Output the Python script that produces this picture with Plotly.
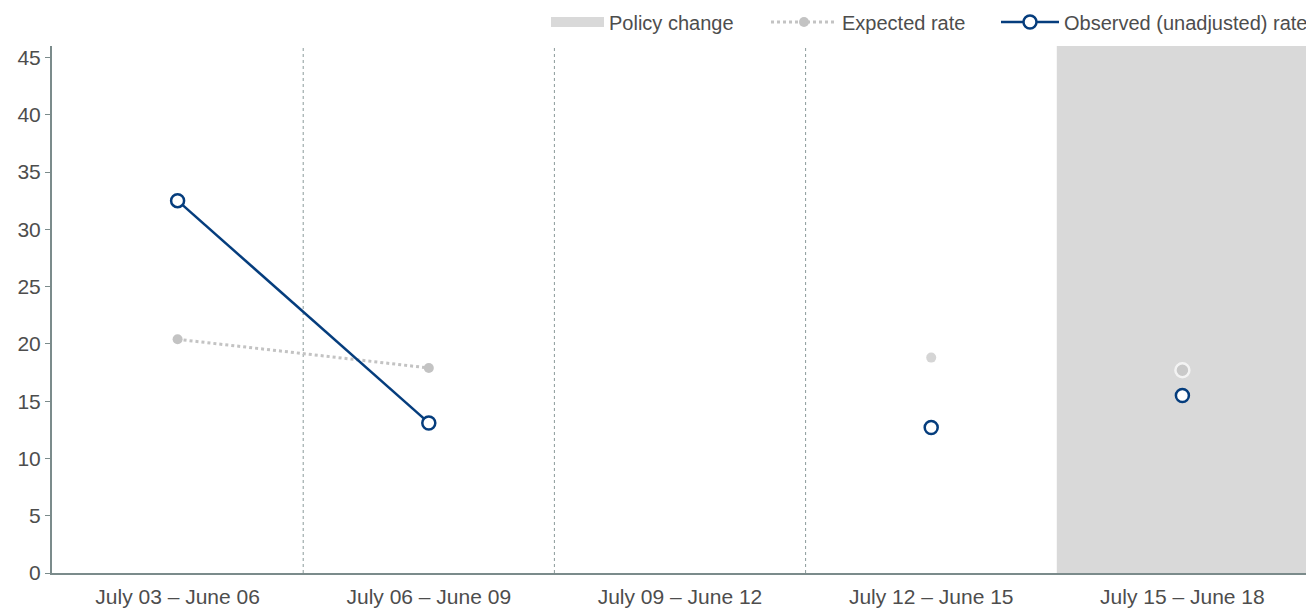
import plotly.graph_objects as go

categories = ["July 03 – June 06", "July 06 – June 09", "July 09 – June 12",
              "July 12 – June 15", "July 15 – June 18"]
observed = [32.5, 13.1, None, 12.7, 15.5]
expected = [20.4, 17.9, None, 18.8, 17.7]
policy_index = 4
y_ticks = [0, 5, 10, 15, 20, 25, 30, 35, 40, 45]

NAVY = "#053d7d"
GRAY = "#c3c3c3"
SHADE = "#d9d9d9"
AXIS = "#7b8b8b"
TEXT = "#4d4d4d"
FONT = "Liberation Sans, Arial, sans-serif"
FS = 21

xs = list(range(len(categories)))
fig = go.Figure()

# Policy change legend entry (shading itself is a shape below)
fig.add_trace(go.Scatter(
    x=[None], y=[None], mode="lines", name="Policy change",
    line=dict(color=SHADE, width=10), legend="legend", hoverinfo="skip"))

# Expected rate
fig.add_trace(go.Scatter(
    x=xs[:2], y=expected[:2], mode="lines+markers", name="Expected rate",
    line=dict(color=GRAY, width=3, dash="dot"),
    marker=dict(size=10, color=GRAY, line=dict(width=0)),
    legendgroup="exp", legend="legend2"))
exp_pts_x = [x for x, v in zip(xs[3:], expected[3:]) if v is not None]
exp_pts_y = [v for v in expected[3:] if v is not None]
fig.add_trace(go.Scatter(
    x=exp_pts_x, y=exp_pts_y, mode="markers", showlegend=False,
    marker=dict(size=[10 if x != policy_index else 14 for x in exp_pts_x], color=GRAY,
                line=dict(width=[0 if x != policy_index else 2.5 for x in exp_pts_x], color="white")),
    legendgroup="exp", legend="legend2"))

# Observed rate
fig.add_trace(go.Scatter(
    x=xs[:2], y=observed[:2], mode="lines+markers", name="Observed (unadjusted) rate",
    line=dict(color=NAVY, width=2.5),
    marker=dict(size=13, color="white", line=dict(width=2.5, color=NAVY)),
    legendgroup="obs", legend="legend3"))
obs_pts_x = [x for x, v in zip(xs[3:], observed[3:]) if v is not None]
obs_pts_y = [v for v in observed[3:] if v is not None]
fig.add_trace(go.Scatter(
    x=obs_pts_x, y=obs_pts_y, mode="markers", showlegend=False,
    marker=dict(size=13, color="white", line=dict(width=2.5, color=NAVY)),
    legendgroup="obs", legend="legend3"))

# Policy change shading
fig.add_shape(type="rect", xref="x", yref="paper",
              x0=policy_index - 0.5, x1=policy_index + 0.5, y0=0, y1=1,
              fillcolor=SHADE, line=dict(width=0), layer="below")

# Dotted separators between periods
for i in range(1, len(categories) - 1):
    fig.add_shape(type="line", xref="x", yref="paper", x0=i - 0.5, x1=i - 0.5,
                  y0=0, y1=1, line=dict(color="#8a9a9a", width=1, dash="dot"), layer="below")

W, H = 1314, 608


def leg(px, iw):
    return dict(orientation="h", xref="container", yref="container",
                x=px / W, xanchor="left", y=0.977, yanchor="middle",
                font=dict(size=20, color=TEXT), itemwidth=iw,
                bgcolor="rgba(0,0,0,0)")


fig.update_layout(
    width=W, height=H,
    margin=dict(l=44, r=14, t=38, b=43, autoexpand=False),
    paper_bgcolor="white", plot_bgcolor="white",
    font=dict(family=FONT, size=FS, color=TEXT),
    showlegend=True,
    legend=leg(538, 53), legend2=leg(758, 66), legend3=leg(988, 58),
    xaxis=dict(range=[-0.5, len(categories) - 0.5], tickvals=xs, ticktext=categories,
               showgrid=False, zeroline=False, showline=True, linecolor=AXIS, linewidth=2,
               ticks="outside", ticklen=4, tickcolor="rgba(0,0,0,0)",
               automargin=False, tickfont=dict(size=FS, color=TEXT)),
    yaxis=dict(range=[0, 46], tickvals=y_ticks, showgrid=False, zeroline=False,
               showline=True, linecolor=AXIS, linewidth=2, ticks="outside",
               ticklen=5, tickcolor=AXIS, tickwidth=1, automargin=False,
               tickfont=dict(size=FS, color=TEXT)),
)

fig.write_html("out.html")
